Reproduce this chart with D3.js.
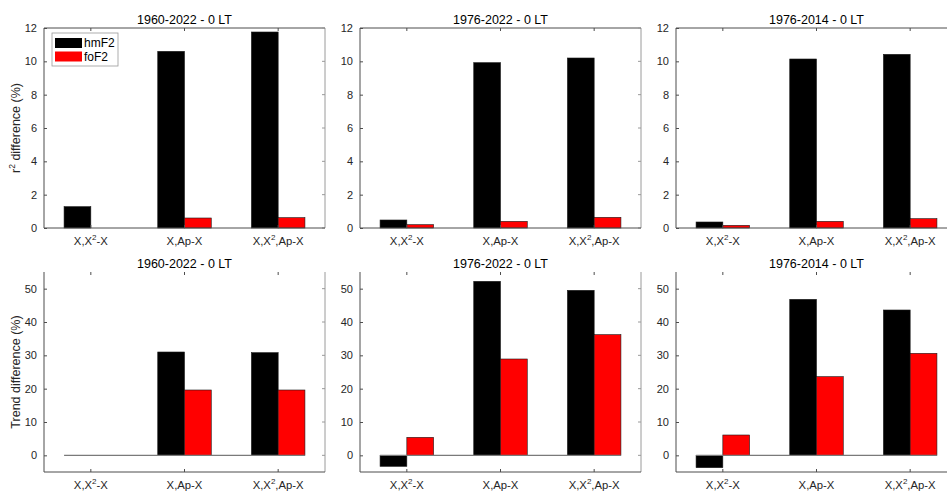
<!DOCTYPE html>
<html>
<head>
<meta charset="utf-8">
<script src="https://cdn.jsdelivr.net/npm/d3@7"></script>
<style>
  html, body { margin: 0; padding: 0; background: #fff; }
  svg { display: block; font-family: "Liberation Sans", Arial, sans-serif; }
</style>
</head>
<body>
<svg id="fig" width="947" height="494"></svg>
<script>
// Model combinations on the x axis ("^2" marks a superscript 2)
const categories = ["X,X^2-X", "X,Ap-X", "X,X^2,Ap-X"];
const seriesNames = ["hmF2", "foF2"];
const seriesColors = ["#000000", "#ff0000"];

// Period of each column of panels
const periodTitles = ["1960-2022 - 0 LT", "1976-2022 - 0 LT", "1976-2014 - 0 LT"];

// r^2 difference (%) per period, one value per category
const r2HmF2 = [[1.28, 10.6, 11.76], [0.48, 9.92, 10.2], [0.36, 10.14, 10.42]];
const r2FoF2 = [[0, 0.6, 0.62], [0.2, 0.4, 0.64], [0.16, 0.4, 0.56]];

// Trend difference (%) per period
const trendHmF2 = [[0, 31.0, 30.8], [-3.3, 52.2, 49.5], [-3.7, 46.8, 43.6]];
const trendFoF2 = [[0, 19.6, 19.6], [5.4, 28.9, 36.2], [6.1, 23.6, 30.6]];

// Axis ticks
const r2Ticks = [0, 2, 4, 6, 8, 10, 12];
const trendTicks = [0, 10, 20, 30, 40, 50];

const svg = d3.select("#fig");

const panelLefts = [44, 360, 676];
const panelW = 281, panelH = 200;
const rows = [
  { top: 28, domain: [0, 12], ticks: r2Ticks, hm: r2HmF2, fo: r2FoF2,
    ylabel: ["r", "2", " difference (%)"], boxTop: true, legend: true },
  { top: 272, domain: [-5, 55], ticks: trendTicks, hm: trendHmF2, fo: trendFoF2,
    ylabel: ["Trend difference (%)"], boxTop: false, legend: false }
];

const axisColor = "#4d4d4d";
const boxColor = "#9a9a9a";
const textColor = "#262626";

function addLabel(sel, label) {
  const parts = label.split("^2");
  parts.forEach((p, i) => {
    if (i > 0) {
      sel.append("tspan").attr("dy", -5).attr("font-size", 8).text("2");
      sel.append("tspan").attr("dy", 5).text(p);
    } else {
      sel.append("tspan").text(p);
    }
  });
}

rows.forEach((row, ri) => {
  panelLefts.forEach((left, ci) => {
    const g = svg.append("g").attr("transform", `translate(${left},${row.top})`);

    const x = d3.scaleBand().domain(categories).range([0, panelW]).padding(0);
    const groupW = x.bandwidth() * (2 / 3.5);
    const xs = d3.scaleBand().domain(seriesNames).range([-groupW / 2, groupW / 2]).padding(0);
    const y = d3.scaleLinear().domain(row.domain).range([panelH, 0]);

    const data = categories.map((c, k) => ({
      cat: c,
      values: [row.hm[ci][k], row.fo[ci][k]]
    }));

    // box lines: right side (light), top for the r^2 row
    g.append("line").attr("x1", panelW).attr("x2", panelW).attr("y1", 0).attr("y2", panelH)
      .attr("stroke", boxColor).attr("stroke-width", 1);
    if (row.boxTop) {
      g.append("line").attr("x1", 0).attr("x2", panelW).attr("y1", 0).attr("y2", 0)
        .attr("stroke", axisColor).attr("stroke-width", 1);
    }

    // bars
    const groups = g.selectAll("g.grp").data(data).join("g")
      .attr("transform", d => `translate(${x(d.cat) + x.bandwidth() / 2},0)`);
    groups.selectAll("rect").data(d => d.values.map((v, j) => ({ v, j })))
      .join("rect")
      .filter(d => d.v !== 0)
      .attr("x", d => xs(seriesNames[d.j]))
      .attr("width", xs.bandwidth())
      .attr("y", d => y(Math.max(0, d.v)))
      .attr("height", d => Math.abs(y(d.v) - y(0)))
      .attr("fill", d => seriesColors[d.j])
      .attr("stroke", "#1a1a1a")
      .attr("stroke-width", 0.6);

    // bar baseline when zero is inside the axis range
    if (row.domain[0] < 0) {
      const first = x(categories[0]) + x.bandwidth() / 2 - groupW / 2;
      const last = x(categories[categories.length - 1]) + x.bandwidth() / 2 + groupW / 2;
      g.append("line").attr("x1", first).attr("x2", last)
        .attr("y1", y(0)).attr("y2", y(0))
        .attr("stroke", "#7a7a7a").attr("stroke-width", 1.2);
    }

    // left axis
    const yAxis = d3.axisLeft(y).tickValues(row.ticks).tickSize(-3).tickPadding(7)
      .tickFormat(d3.format("d"));
    const ya = g.append("g").call(yAxis);
    ya.select(".domain").attr("stroke", axisColor).attr("d", `M0,0V${panelH}`);
    ya.selectAll(".tick line").attr("stroke", axisColor);
    ya.selectAll(".tick text").attr("fill", textColor).attr("font-size", 11)
      .attr("font-family", "Liberation Sans, Arial, sans-serif");

    // right-side ticks
    g.append("g").selectAll("line").data(row.ticks).join("line")
      .attr("x1", panelW).attr("x2", panelW - 3)
      .attr("y1", d => y(d)).attr("y2", d => y(d))
      .attr("stroke", boxColor);

    // bottom axis
    const xa = g.append("g").attr("transform", `translate(0,${panelH})`)
      .call(d3.axisBottom(x).tickSize(-3).tickPadding(8).tickFormat(""));
    xa.select(".domain").attr("stroke", axisColor).attr("d", `M0,0H${panelW}`);
    xa.selectAll(".tick line").attr("stroke", axisColor);
    xa.selectAll(".tick").each(function (d) {
      const t = d3.select(this).append("text")
        .attr("y", 17).attr("text-anchor", "middle")
        .attr("fill", textColor).attr("font-size", 11.3);
      addLabel(t, d);
    });

    // top ticks
    g.append("g").selectAll("line").data(categories).join("line")
      .attr("x1", d => x(d) + x.bandwidth() / 2).attr("x2", d => x(d) + x.bandwidth() / 2)
      .attr("y1", 0).attr("y2", 3)
      .attr("stroke", axisColor);

    // title
    g.append("text").attr("x", panelW / 2).attr("y", -4)
      .attr("text-anchor", "middle").attr("font-size", 12.5).attr("fill", "#000")
      .text(periodTitles[ci]);

    // y label on the first column
    if (ci === 0) {
      const yl = g.append("text")
        .attr("transform", `translate(${-24},${panelH / 2}) rotate(-90)`)
        .attr("text-anchor", "middle").attr("font-size", 12.5).attr("fill", textColor);
      if (row.ylabel.length === 3) {
        yl.append("tspan").text(row.ylabel[0]);
        yl.append("tspan").attr("dy", -5).attr("font-size", 8.5).text(row.ylabel[1]);
        yl.append("tspan").attr("dy", 5).text(row.ylabel[2]);
      } else {
        yl.text(row.ylabel[0]);
      }
    }

    // legend
    if (row.legend && ci === 0) {
      const lg = g.append("g").attr("transform", "translate(8,5)");
      lg.append("rect").attr("width", 66).attr("height", 33)
        .attr("fill", "#fff").attr("stroke", "#9a9a9a").attr("stroke-width", 0.8);
      seriesNames.forEach((s, j) => {
        lg.append("rect").attr("x", 3).attr("y", 5 + j * 13.5)
          .attr("width", 27).attr("height", 10).attr("fill", seriesColors[j]);
        lg.append("text").attr("x", 32).attr("y", 14 + j * 13.5)
          .attr("font-size", 12).attr("fill", "#000").text(s);
      });
    }
  });
});
</script>
</body>
</html>
